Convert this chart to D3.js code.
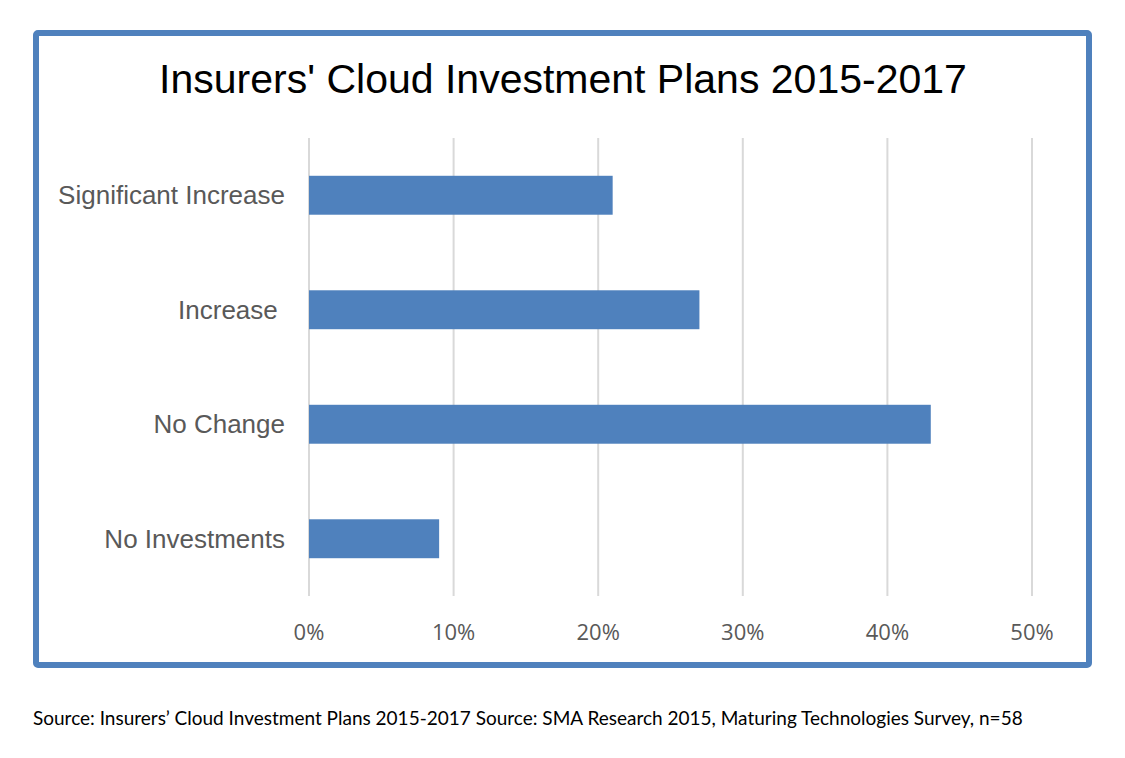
<!DOCTYPE html>
<html>
<head>
<meta charset="utf-8">
<script src="https://cdn.jsdelivr.net/npm/d3@7"></script>
<style>
  body { margin: 0; background: #fff; }
</style>
</head>
<body>
<script>
var categories = ["Significant Increase", "Increase ", "No Change", "No Investments"]
var values = [21, 27, 43, 9]
var ticks = [0, 10, 20, 30, 40, 50]

var screen = {width: 1125, height: 758}

var svg = d3.select("body")
  .append("svg")
  .attr("width", screen.width)
  .attr("height", screen.height)

// outer frame
svg.append("rect")
  .attr("x", 36)
  .attr("y", 33)
  .attr("width", 1053)
  .attr("height", 632)
  .attr("rx", 2)
  .attr("fill", "#fff")
  .attr("stroke", "#4f81bd")
  .attr("stroke-width", 6)

svg.append("text")
  .attr("x", 563)
  .attr("y", 93)
  .attr("text-anchor", "middle")
  .style("font-family", "'Liberation Sans', Arial, sans-serif")
  .style("font-size", "41px")
  .attr("fill", "#000")
  .text("Insurers' Cloud Investment Plans 2015-2017")

var xScale = d3.scaleLinear()
  .domain([0, 50])
  .range([309, 1032])

var yScale = d3.scaleBand()
  .domain(categories)
  .range([138, 596])
  .paddingInner(0.66)
  .paddingOuter(0.33)

// gridlines
svg.append("g")
  .selectAll("line")
  .data(ticks)
  .enter()
  .append("line")
  .attr("x1", function(d) { return xScale(d) })
  .attr("x2", function(d) { return xScale(d) })
  .attr("y1", 138)
  .attr("y2", 596)
  .attr("stroke", "#d9d9d9")
  .attr("stroke-width", 2)

// bars
svg.append("g")
  .selectAll("rect")
  .data(values)
  .enter()
  .append("rect")
  .attr("x", xScale(0))
  .attr("y", function(d, i) { return yScale(categories[i]) })
  .attr("width", function(d) { return xScale(d) - xScale(0) })
  .attr("height", yScale.bandwidth())
  .attr("fill", "#4f81bd")

// category labels
svg.append("g")
  .selectAll("text")
  .data(categories)
  .enter()
  .append("text")
  .attr("x", 285)
  .attr("y", function(d) { return yScale(d) + yScale.bandwidth() / 2 })
  .attr("dy", "0.35em")
  .attr("text-anchor", "end")
  .style("font-family", "'Liberation Sans', Arial, sans-serif")
  .style("font-size", "26px")
  .attr("fill", "#595959")
  .style("white-space", "pre")
  .text(function(d) { return d })

// x axis tick labels
svg.append("g")
  .selectAll("text")
  .data(ticks)
  .enter()
  .append("text")
  .attr("x", function(d) { return xScale(d) })
  .attr("y", 640)
  .attr("text-anchor", "middle")
  .style("font-family", "'Open Sans', sans-serif")
  .style("font-size", "22px")
  .attr("fill", "#595959")
  .text(function(d) { return d + "%" })

svg.append("text")
  .attr("x", 33)
  .attr("y", 725)
  .style("font-family", "Lato, 'Open Sans', sans-serif")
  .style("font-size", "19px")
  .attr("fill", "#000")
  .text("Source: Insurers\u2019 Cloud Investment Plans 2015-2017 Source: SMA Research 2015, Maturing Technologies Survey, n=58")
</script>
</body>
</html>
